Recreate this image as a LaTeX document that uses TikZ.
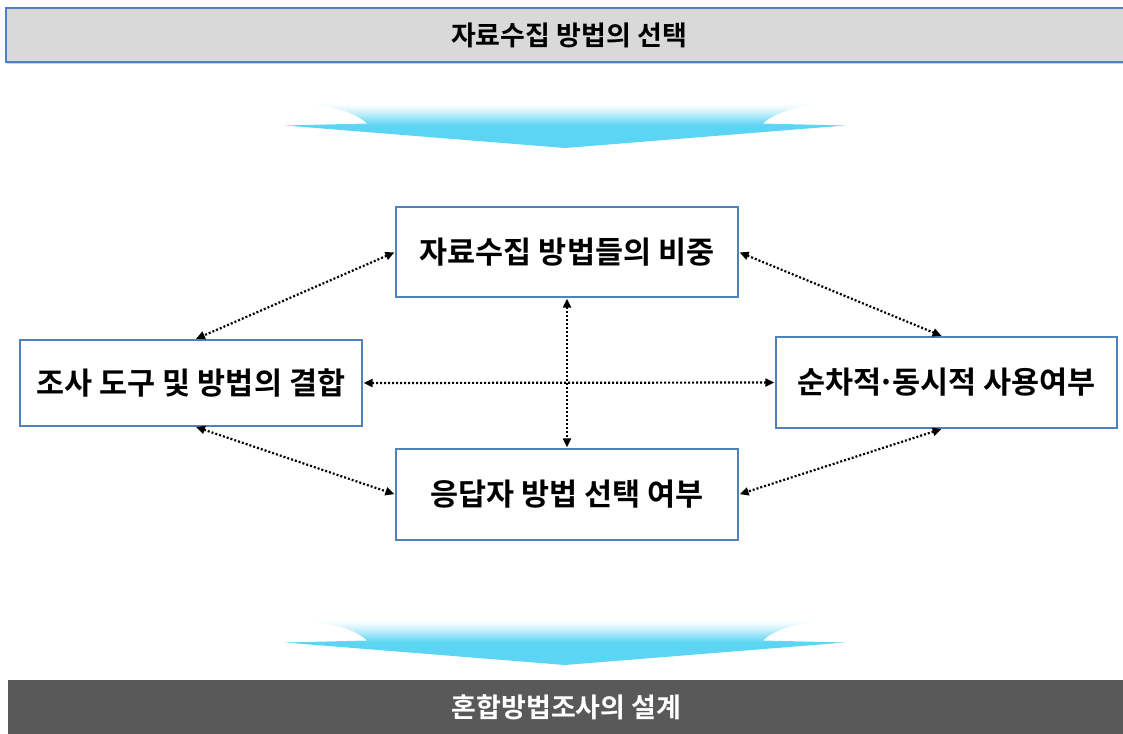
\documentclass[tikz,border=0pt]{standalone}
\usepackage{fontspec}
\setmainfont{Noto Sans CJK KR}[BoldFont=* Bold]
\usetikzlibrary{arrows.meta,shadows}
\definecolor{boxblue}{RGB}{79,129,189}
\definecolor{bargray}{RGB}{217,217,217}
\definecolor{darkbar}{RGB}{89,89,89}
\definecolor{cy}{RGB}{92,212,243}
\pgfdeclareverticalshading{chevshade}{100bp}{color(0bp)=(cy); color(25bp)=(cy); color(50bp)=(cy); color(56bp)=(cy!75); color(63bp)=(cy!40); color(70bp)=(cy!12); color(75bp)=(white); color(100bp)=(white)}
\tikzset{
  stagebox/.style={draw=boxblue, line width=1.4pt, fill=white, rectangle,
    minimum width=342pt, minimum height=90pt, font=\fontsize{30.5}{34}\selectfont\bfseries},
  topbar/.style={draw=boxblue, line width=1.5pt, fill=bargray, rectangle,
    minimum width=1126pt, minimum height=54pt, font=\fontsize{27}{30}\selectfont\bfseries,
    drop shadow={shadow xshift=1pt, shadow yshift=-2pt, opacity=0.35}},
  botbar/.style={fill=darkbar, rectangle, text=white,
    minimum width=1117pt, minimum height=55pt, font=\fontsize{27}{30}\selectfont\bfseries},
  link/.style={line width=2.2pt, dash pattern=on 2pt off 2pt, black,
    {Triangle[length=9pt,width=8pt]}-{Triangle[length=9pt,width=8pt]}, shorten <=1pt, shorten >=1pt},
  chevron/.style={shading=chevshade, draw=none}
}
\begin{document}
\begin{tikzpicture}[x=1pt,y=-1pt]
\useasboundingbox (0,0) rectangle (1123,733);
% bars
\node[topbar] (topbar) at (569,35) {자료수집 방법의 선택};
\node[botbar] (botbar) at (566.5,707.5) {혼합방법조사의 설계};
% chevrons
\path[chevron] (565,148) -- (285,125.5) -- (367,123.5)
  .. controls (355,112) and (330,105) .. (297,103) -- (833,103)
  .. controls (800,105) and (775,112) .. (763,123.5) -- (845,125.5) -- cycle;
\path[chevron] (565,665) -- (285,642.5) -- (367,640.5)
  .. controls (355,629) and (330,622) .. (297,620) -- (833,620)
  .. controls (800,622) and (775,629) .. (763,640.5) -- (845,642.5) -- cycle;
% boxes
\node[stagebox] (weight) at (567,252) {자료수집 방법들의 비중};
\node[stagebox, minimum height=86pt] (combine) at (191,383) {조사 도구 및 방법의 결합};
\node[stagebox, minimum width=341pt, minimum height=91pt] (sequence) at (946.5,382.5) {순차적\kern-0.12em·\kern-0.12em동시적 사용여부};
\node[stagebox, minimum height=91pt] (respond) at (567,494.5) {응답자 방법 선택 여부};
% connectors
\draw[link] (weight.west) -- ([xshift=4pt]combine.north);
\draw[link] (weight.east) -- ([xshift=-4pt]sequence.north);
\draw[link] ([xshift=4pt]combine.south) -- (respond.west);
\draw[link] ([xshift=-4pt]sequence.south) -- (respond.east);
\draw[link] (combine.east) -- (sequence.west);
\draw[link] (weight.south) -- (respond.north);
\end{tikzpicture}
\end{document}
